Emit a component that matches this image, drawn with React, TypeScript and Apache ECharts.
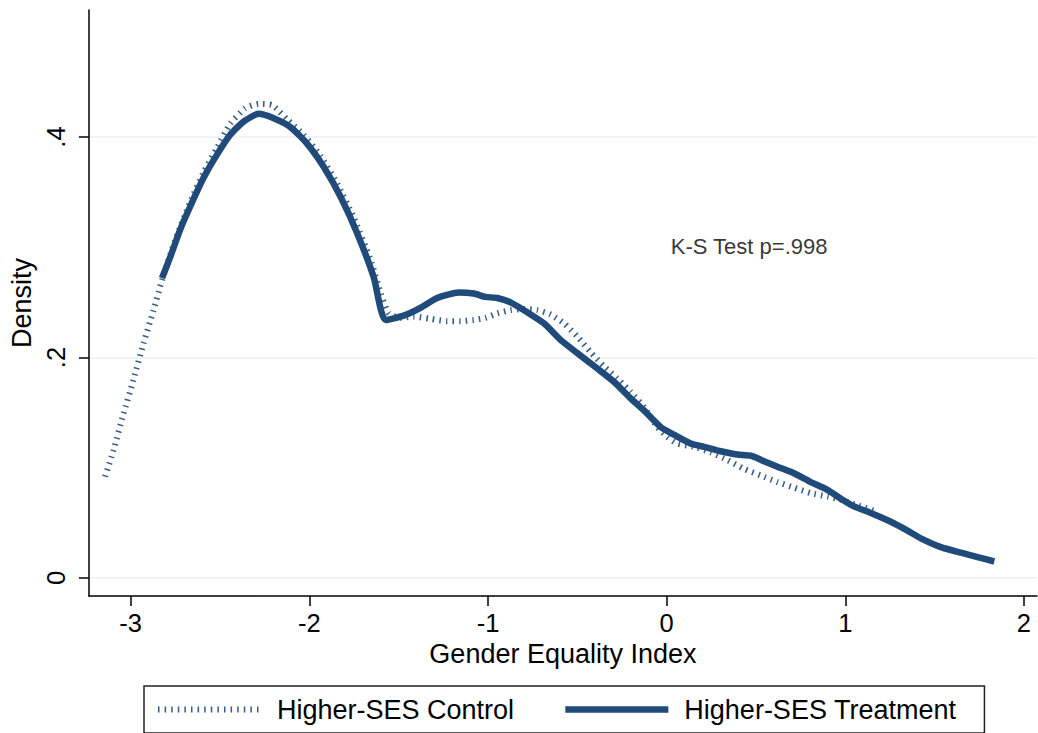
import React, { useEffect, useRef } from "react";
import * as echarts from "echarts";

// Higher-SES Control (dotted) kernel density
const controlX = [-3.143, -3.096, -3.040, -2.984, -2.928, -2.872, -2.825, -2.750, -2.667, -2.592, -2.517, -2.443, -2.359, -2.284, -2.209, -2.125, -2.032, -1.938, -1.845, -1.752, -1.658, -1.600, -1.555, -1.490, -1.416, -1.322, -1.229, -1.154, -1.080, -1.014, -0.948, -0.874, -0.800, -0.724, -0.650, -0.575, -0.500, -0.426, -0.351, -0.276, -0.202, -0.127, -0.052, 0.004, 0.060, 0.153, 0.246, 0.340, 0.433, 0.527, 0.620, 0.713, 0.807, 0.900, 0.975, 1.068, 1.180];
const controlY = [0.092, 0.116, 0.149, 0.180, 0.213, 0.243, 0.270, 0.307, 0.341, 0.368, 0.390, 0.412, 0.426, 0.430, 0.429, 0.416, 0.402, 0.383, 0.358, 0.327, 0.289, 0.258, 0.240, 0.236, 0.237, 0.235, 0.233, 0.233, 0.234, 0.236, 0.240, 0.243, 0.244, 0.243, 0.239, 0.231, 0.219, 0.205, 0.192, 0.181, 0.169, 0.155, 0.137, 0.128, 0.122, 0.119, 0.114, 0.107, 0.099, 0.093, 0.087, 0.082, 0.077, 0.074, 0.071, 0.066, 0.060];

// Higher-SES Treatment (solid) kernel density
const treatX = [-2.825, -2.779, -2.723, -2.667, -2.592, -2.517, -2.443, -2.368, -2.284, -2.200, -2.106, -2.013, -1.920, -1.826, -1.733, -1.640, -1.574, -1.472, -1.378, -1.285, -1.163, -1.080, -1.014, -0.948, -0.874, -0.780, -0.687, -0.594, -0.500, -0.388, -0.295, -0.202, -0.127, -0.034, 0.041, 0.134, 0.209, 0.303, 0.396, 0.471, 0.545, 0.620, 0.713, 0.807, 0.900, 0.975, 1.049, 1.143, 1.255, 1.348, 1.423, 1.535, 1.647, 1.740, 1.834];
const treatY = [0.272, 0.291, 0.316, 0.337, 0.363, 0.384, 0.402, 0.414, 0.421, 0.417, 0.409, 0.394, 0.373, 0.346, 0.313, 0.273, 0.234, 0.238, 0.245, 0.254, 0.259, 0.258, 0.255, 0.254, 0.250, 0.241, 0.231, 0.216, 0.204, 0.190, 0.178, 0.163, 0.152, 0.137, 0.130, 0.122, 0.119, 0.115, 0.112, 0.111, 0.106, 0.101, 0.095, 0.087, 0.080, 0.072, 0.065, 0.059, 0.051, 0.043, 0.036, 0.028, 0.023, 0.019, 0.015];

const xTicks = [-3, -2, -1, 0, 1, 2];
const yTicks = [0, 0.2, 0.4];
const seriesNames = ["Higher-SES Control", "Higher-SES Treatment"];
const annotationX = 0.02;
const annotationY = 0.301;
const annotationText = "K-S Test p=.998";

const FONT = "'Liberation Sans', Arial, Helvetica, sans-serif";
const NAVY = "#1f4a7a";
const DOT_STYLE = { color: NAVY, width: 6, type: [1.5, 5.1], cap: "butt", opacity: 0.9 };
const SOLID_STYLE = { color: NAVY, width: 6.5, cap: "butt", join: "round" };

export default function App() {
  const ref = useRef<HTMLDivElement>(null);

  useEffect(() => {
    document.body.style.margin = "0";
    if (!ref.current) return;
    const chart = echarts.init(ref.current, null, { renderer: "svg" });
    const zip = (xs: number[], ys: number[]) => xs.map((x, i) => [x, ys[i]]);
    chart.setOption({
      animation: false,
      backgroundColor: "#ffffff",
      textStyle: { fontFamily: FONT },
      grid: { left: 88, right: 1, top: 10, bottom: 137, containLabel: false },
      xAxis: {
        type: "value",
        min: -3.234,
        max: 2.073,
        name: "Gender Equality Index",
        nameLocation: "middle",
        nameGap: 42,
        nameTextStyle: { fontSize: 27, color: "#000", fontFamily: FONT },
        axisLine: { show: true, onZero: false, lineStyle: { color: "#000", width: 1.5 } },
        axisTick: { show: true, length: 10, customValues: xTicks, lineStyle: { color: "#000", width: 1.5 } },
        axisLabel: { customValues: xTicks, fontSize: 25.5, color: "#000", margin: 14, fontFamily: FONT, formatter: (v: number) => String(v) },
        splitLine: { show: false },
      },
      yAxis: {
        type: "value",
        min: -0.0163,
        max: 0.5152,
        name: "Density",
        nameLocation: "middle",
        nameGap: 50,
        nameTextStyle: { fontSize: 27, color: "#000", fontFamily: FONT },
        axisLine: { show: true, onZero: false, lineStyle: { color: "#000", width: 1.5 } },
        axisTick: { show: true, length: 10, customValues: yTicks, lineStyle: { color: "#000", width: 1.5 } },
        axisLabel: {
          customValues: yTicks,
          rotate: 90,
          fontSize: 25.5,
          color: "#000",
          margin: 20,
          fontFamily: FONT,
          formatter: (v: number) => (v === 0 ? "0" : String(Math.round(v * 10) / 10).replace(/^0/, "")),
        },
        splitLine: { show: true, lineStyle: { color: "#e8f0f2", width: 1.5 } },
      },
      legend: {
        data: [
          { name: seriesNames[0], itemStyle: { opacity: 0 }, lineStyle: { ...DOT_STYLE } },
          { name: seriesNames[1], itemStyle: { opacity: 0 }, lineStyle: { ...SOLID_STYLE } },
        ],
        left: 144,
        top: 686,
        orient: "horizontal",
        padding: [10, 28, 10, 11],
        itemWidth: 103,
        itemHeight: 28,
        itemGap: 48,
        borderColor: "#222",
        borderWidth: 1.5,
        backgroundColor: "#fff",
        itemStyle: { opacity: 0 },
        textStyle: { fontSize: 27, color: "#000", fontFamily: FONT, padding: [0, 0, 0, 11] },
      },
      series: [
        {
          name: seriesNames[0],
          type: "line",
          data: zip(controlX, controlY),
          symbol: "none",
          smooth: 0.2,
          lineStyle: DOT_STYLE,
          itemStyle: { color: NAVY },
          z: 2,
        },
        {
          name: seriesNames[1],
          type: "line",
          data: zip(treatX, treatY),
          symbol: "none",
          smooth: 0.2,
          lineStyle: SOLID_STYLE,
          itemStyle: { color: NAVY },
          z: 3,
        },
        {
          name: "annotation",
          type: "scatter",
          data: [[annotationX, annotationY]],
          symbolSize: 1,
          itemStyle: { color: "rgba(0,0,0,0)" },
          silent: true,
          label: {
            show: true,
            position: "right",
            distance: 0,
            formatter: annotationText,
            fontSize: 22,
            color: "#000",
            fontFamily: FONT,
          },
          z: 4,
        },
      ],
    });
    return () => chart.dispose();
  }, []);

  return (
    <div
      ref={ref}
      style={{ position: "absolute", left: 0, top: 0, width: 1038, height: 733 }}
    />
  );
}
